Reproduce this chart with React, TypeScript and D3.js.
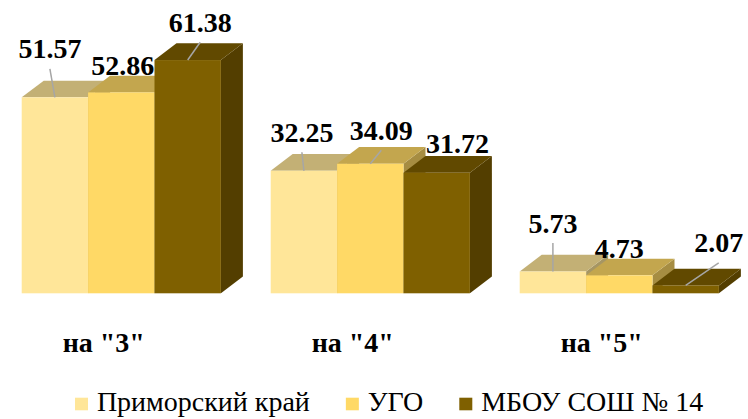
import React from 'react';
import * as d3 from 'd3';

const categories = ['на "3"', 'на "4"', 'на "5"'];
const seriesNames = ['Приморский край', 'УГО', 'МБОУ СОШ № 14'];
const primorsky = [51.57, 32.25, 5.73];
const ugo = [52.86, 34.09, 4.73];
const school14 = [61.38, 31.72, 2.07];

const seriesValues = [primorsky, ugo, school14];
const colors = ['#FFE699', '#FFD966', '#7F6000'];

// label placement relative to the front-top centre of each bar [dx, dy]
const labelShift = [
    [[-5, -39], [1.5, -17], [12.5, -28.3]],
    [[-2, -29], [11, -24], [20.7, -19.5]],
    [[0, -39], [0, -17], [33, -33]],
];

const FONT = 'Liberation Serif';

const shade = (c, f) => {
    const rgb = d3.rgb(c);
    return d3.rgb(rgb.r * f, rgb.g * f, rgb.b * f).formatHex();
};

const App = () => {
    const svgRef = React.useRef(null);
    const W = 748, H = 419;
    const depthX = 22, depthY = -16.7;

    React.useEffect(() => {
        const svg = d3.select(svgRef.current);
        svg.selectAll('*').remove();

        const x = d3.scaleBand()
            .domain(categories)
            .range([-3.2, 743.8])
            .paddingInner(0.2)
            .paddingOuter(0.1);

        const xs = d3.scaleBand()
            .domain(d3.range(seriesNames.length))
            .range([0, x.bandwidth()]);

        const y = d3.scaleLinear()
            .domain([0, 70])
            .range([293.3, 27.3]);

        const bars = svg.append('g');

        categories.forEach((cat, ci) => {
            seriesNames.forEach((s, si) => {
                const v = seriesValues[si][ci];
                const x0 = x(cat) + xs(si);
                const x1 = x0 + xs.bandwidth();
                const y0 = y(0);
                const y1 = y(v);
                const g = bars.append('g');
                // side
                g.append('path')
                    .attr('d', `M${x1},${y1}L${x1 + depthX},${y1 + depthY}L${x1 + depthX},${y0 + depthY}L${x1},${y0}Z`)
                    .attr('fill', shade(colors[si], 0.65));
                // top
                g.append('path')
                    .attr('d', `M${x0},${y1}L${x0 + depthX},${y1 + depthY}L${x1 + depthX},${y1 + depthY}L${x1},${y1}Z`)
                    .attr('fill', shade(colors[si], 0.765));
                // front
                g.append('rect')
                    .attr('x', x0)
                    .attr('y', y1)
                    .attr('width', x1 - x0)
                    .attr('height', y0 - y1)
                    .attr('fill', colors[si]);
            });
        });

        // data labels
        const labels = svg.append('g');
        categories.forEach((cat, ci) => {
            seriesNames.forEach((s, si) => {
                const v = seriesValues[si][ci];
                const cx = x(cat) + xs(si) + xs.bandwidth() / 2;
                const cy = y(v);
                const [dx, dy] = labelShift[ci][si];
                if (dy < -22) {
                    labels.append('line')
                        .attr('x1', cx + dx)
                        .attr('y1', cy + dy + 10.5)
                        .attr('x2', cx)
                        .attr('y2', cy)
                        .attr('stroke', '#A6A6A6')
                        .attr('stroke-width', 1.5);
                }
                labels.append('text')
                    .attr('x', cx + dx)
                    .attr('y', cy + dy)
                    .attr('text-anchor', 'middle')
                    .attr('font-family', FONT)
                    .attr('font-weight', 'bold')
                    .attr('font-size', 28)
                    .text(v.toFixed(2));
            });
        });

        // category labels
        svg.append('g')
            .selectAll('text')
            .data(categories)
            .enter()
                .append('text')
                .attr('x', (d) => x(d) + x.bandwidth() / 2 - 17.5)
                .attr('y', 351.5)
                .attr('text-anchor', 'middle')
                .attr('font-family', FONT)
                .attr('font-weight', 'bold')
                .attr('font-size', 28)
                .text((d) => d);

        // legend
        const legend = svg.append('g');
        let lx = 75;
        seriesNames.forEach((name, si) => {
            legend.append('rect')
                .attr('x', lx)
                .attr('y', 397.7)
                .attr('width', 13)
                .attr('height', 12.6)
                .attr('fill', colors[si]);
            const t = legend.append('text')
                .attr('x', lx + 21.9)
                .attr('y', 411)
                .attr('font-family', FONT)
                .attr('font-size', 28)
                .text(name);
            lx = lx + 21.9 + t.node().getComputedTextLength() + 36;
        });
    }, []);

    return (
        <svg ref={svgRef} width={W} height={H}
            style={{ position: 'absolute', left: 0, top: 0, background: '#fff' }} />
    );
};

export default App;
